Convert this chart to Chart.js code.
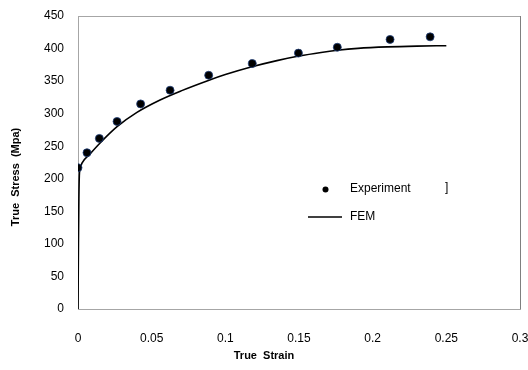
<!DOCTYPE html>
<html>
<head>
<meta charset="utf-8">
<style>
  html, body { margin: 0; padding: 0; background: #ffffff; }
  #wrap { width: 528px; height: 370px; }
</style>
<script src="https://cdn.jsdelivr.net/npm/chart.js@4/dist/chart.umd.min.js"></script>
</head>
<body>
<div id="wrap"><canvas id="chart" width="528" height="370"></canvas></div>
<script>
// Measured true stress-strain points
const expStrain = [0, 0.0061, 0.0145, 0.0265, 0.0425, 0.0625, 0.0887, 0.1183, 0.1496, 0.176, 0.2118, 0.239];
const expStress = [217, 240, 262, 288, 315, 336, 359, 377, 393, 402, 414, 418];

// Finite-element flow curve
const femStrain = [0, 0.0003, 0.0006, 0.0009, 0.0015, 0.0027, 0.0077, 0.015, 0.0265, 0.04, 0.0557, 0.07, 0.0885, 0.1, 0.118, 0.135, 0.15, 0.165, 0.176, 0.19, 0.21, 0.23, 0.25];
const femStress = [0, 100, 170, 205, 216, 224, 237, 255, 280, 302, 321, 335, 351, 360, 372, 381.5, 388.5, 394, 397.3, 400.3, 402.6, 403.8, 404.4];

const xTicks = [0, 0.05, 0.1, 0.15, 0.2, 0.25, 0.3];
const yTicks = [0, 50, 100, 150, 200, 250, 300, 350, 400, 450];

const xTitle = 'True  Strain';
const yTitle = 'True  Stress  (Mpa)';
const legendLabels = ['Experiment', 'FEM'];

const toPoints = (xs, ys) => xs.map((x, i) => ({ x: x, y: ys[i] }));

const FONT = '"Liberation Sans", "Open Sans", sans-serif';

// Frame, axis titles and legend box
const decorations = {
  id: 'decorations',
  afterDraw(chart) {
    const ctx = chart.ctx;
    const a = chart.chartArea;
    ctx.save();
    // top and right frame lines
    ctx.lineWidth = 1;
    ctx.strokeStyle = '#a6a6a6';
    ctx.beginPath();
    ctx.moveTo(a.left, a.top + 0.5);
    ctx.lineTo(a.right, a.top + 0.5);
    ctx.stroke();
    ctx.strokeStyle = '#7f7f7f';
    ctx.beginPath();
    ctx.moveTo(a.right + 0.5, a.top);
    ctx.lineTo(a.right + 0.5, a.bottom);
    ctx.stroke();

    // axis titles
    ctx.fillStyle = '#000000';
    ctx.font = 'bold 11px ' + FONT;
    ctx.textAlign = 'center';
    ctx.textBaseline = 'middle';
    ctx.fillText(xTitle, 264, 356);
    ctx.translate(16, 177);
    ctx.rotate(-Math.PI / 2);
    ctx.fillText(yTitle, 0, 0);
    ctx.restore();

    // legend
    ctx.save();
    ctx.fillStyle = '#000000';
    ctx.beginPath();
    ctx.arc(325.5, 189.5, 3, 0, Math.PI * 2);
    ctx.fill();
    ctx.strokeStyle = '#000000';
    ctx.lineWidth = 1.6;
    ctx.beginPath();
    ctx.moveTo(308, 217);
    ctx.lineTo(342, 217);
    ctx.stroke();
    ctx.font = '12px ' + FONT;
    ctx.textAlign = 'left';
    ctx.textBaseline = 'middle';
    ctx.fillText(legendLabels[0], 350, 189);
    ctx.fillText(legendLabels[1], 350, 217);
    ctx.fillText(']', 445, 188);
    ctx.restore();
  }
};

new Chart(document.getElementById('chart'), {
  type: 'scatter',
  data: {
    datasets: [
      {
        label: legendLabels[0],
        data: toPoints(expStrain, expStress),
        showLine: false,
        pointRadius: 4,
        pointHoverRadius: 4,
        pointBackgroundColor: '#000000',
        pointBorderColor: '#1f3f7a',
        pointBorderWidth: 0.8,
        order: 1
      },
      {
        label: legendLabels[1],
        data: toPoints(femStrain, femStress),
        showLine: true,
        borderColor: '#000000',
        borderWidth: 1.6,
        pointRadius: 0,
        pointHoverRadius: 0,
        fill: false,
        cubicInterpolationMode: 'monotone',
        order: 2
      }
    ]
  },
  options: {
    responsive: false,
    animation: false,
    events: [],
    layout: { padding: { left: 0, top: 16, right: 8, bottom: 0 } },
    plugins: {
      legend: { display: false },
      tooltip: { enabled: false },
      title: { display: false }
    },
    scales: {
      x: {
        type: 'linear',
        min: 0,
        max: 0.3,
        afterFit(scale) {
          scale.height = 61;
          scale.paddingLeft = 0;
          scale.paddingRight = 0;
        },
        afterBuildTicks(scale) { scale.ticks = xTicks.map(v => ({ value: v })); },
        grid: { display: false, drawTicks: false },
        border: { display: true, color: '#a6a6a6', width: 1 },
        ticks: {
          padding: 22,
          color: '#000000',
          font: { family: FONT, size: 12 },
          maxRotation: 0,
          callback: v => String(Math.round(v * 100) / 100)
        }
      },
      y: {
        type: 'linear',
        min: 0,
        max: 450,
        afterFit(scale) {
          scale.width = 78;
          scale.paddingTop = 0;
          scale.paddingBottom = 0;
        },
        afterBuildTicks(scale) { scale.ticks = yTicks.map(v => ({ value: v })); },
        grid: { display: false, drawTicks: false },
        border: { display: true, color: '#a6a6a6', width: 1 },
        ticks: {
          padding: 14,
          color: '#000000',
          font: { family: FONT, size: 12 },
          callback: v => String(v)
        }
      }
    }
  },
  plugins: [decorations]
});
</script>
</body>
</html>
